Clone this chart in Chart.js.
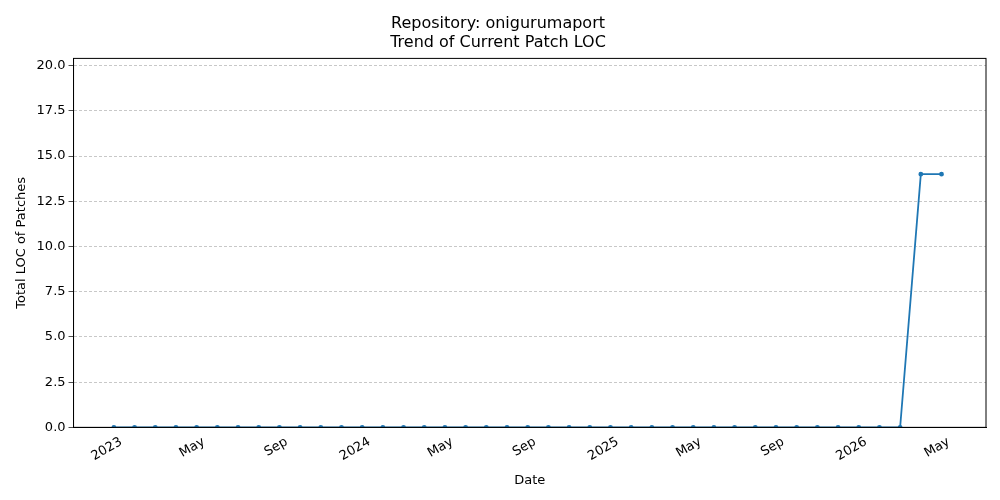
<!DOCTYPE html>
<html>
<head>
<meta charset="utf-8">
<script src="https://cdn.jsdelivr.net/npm/chart.js@4"></script>
<style>
  html, body { margin: 0; padding: 0; background: #fff; }
  #wrap { width: 1000px; height: 500px; }
</style>
</head>
<body>
<div id="wrap"><canvas id="chart" width="1000" height="500"></canvas></div>
<script>
// months since Jan 2023, one point per month
const months = [];
for (let i = 0; i <= 40; i++) months.push(i);
const locValues = [
  0,0,0,0,0,0,0,0,0,0,0,0,   // 2023
  0,0,0,0,0,0,0,0,0,0,0,0,   // 2024
  0,0,0,0,0,0,0,0,0,0,0,0,   // 2025
  0,0,0,14,14                // 2026 Jan-May
];
const tickMonths = [0, 4, 8, 12, 16, 20, 24, 28, 32, 36, 40];
const tickLabels = ["2023", "May", "Sep", "2024", "May", "Sep", "2025", "May", "Sep", "2026", "May"];
const yTicks = [0, 2.5, 5, 7.5, 10, 12.5, 15, 17.5, 20];

const font = { family: "DejaVu Sans", size: 13 };
Chart.defaults.color = "#000";

new Chart(document.getElementById("chart").getContext("2d"), {
  type: "line",
  data: {
    datasets: [{
      data: months.map((m, i) => ({ x: m, y: locValues[i] })),
      borderColor: "#1f77b4",
      backgroundColor: "#1f77b4",
      borderWidth: 1.8,
      pointRadius: 1.5,
      pointHoverRadius: 1.5,
      tension: 0
    }]
  },
  options: {
    responsive: false,
    animation: false,
    layout: { padding: { left: 10, right: 14, top: 10, bottom: 8 } },
    plugins: {
      legend: { display: false },
      tooltip: { enabled: false },
      title: {
        display: true,
        text: ["Repository: onigurumaport", "Trend of Current Patch LOC"],
        font: { family: "DejaVu Sans", size: 16, weight: "normal" },
        color: "#000",
        padding: { top: 4, bottom: 6 }
      }
    },
    scales: {
      x: {
        type: "linear",
        min: -1.95,
        max: 42.15,
        afterBuildTicks: ax => { ax.ticks = tickMonths.map(v => ({ value: v })); },
        ticks: {
          font: font,
          color: "rgba(0,0,0,0)",
          maxRotation: 30,
          minRotation: 30,
          autoSkip: false,
          callback: v => tickLabels[tickMonths.indexOf(v)]
        },
        grid: { display: false, drawTicks: true, tickLength: 5, tickColor: "#000" },
        border: { color: "#000" },
        title: { display: true, text: "Date", font: font }
      },
      y: {
        min: 0,
        max: 20.4,
        afterBuildTicks: ax => { ax.ticks = yTicks.map(v => ({ value: v })); },
        ticks: { font: font, callback: v => v.toFixed(1) },
        grid: { color: "#b0b0b0", lineWidth: 0.7, tickLength: 5, tickColor: "#000" },
        border: { color: "#000", dash: [3, 2] },
        title: { display: true, text: "Total LOC of Patches", font: font }
      }
    }
  },
  plugins: [{
    id: "frame",
    afterDraw(c) {
      const { ctx, chartArea: a } = c;
      const xs = c.scales.x;
      ctx.save();
      ctx.strokeStyle = "#000";
      ctx.lineWidth = 1;
      ctx.strokeRect(a.left, a.top, a.right - a.left, a.bottom - a.top);
      // rotated labels, right-aligned at the tick like matplotlib
      ctx.fillStyle = "#000";
      ctx.font = "13px 'DejaVu Sans'";
      ctx.textAlign = "right";
      ctx.textBaseline = "top";
      tickMonths.forEach((m, i) => {
        ctx.save();
        ctx.translate(xs.getPixelForValue(m) + 4, a.bottom + 8);
        ctx.rotate(-Math.PI / 6);
        ctx.fillText(tickLabels[i], 0, 0);
        ctx.restore();
      });
      ctx.restore();
    }
  }]
});
</script>
</body>
</html>
